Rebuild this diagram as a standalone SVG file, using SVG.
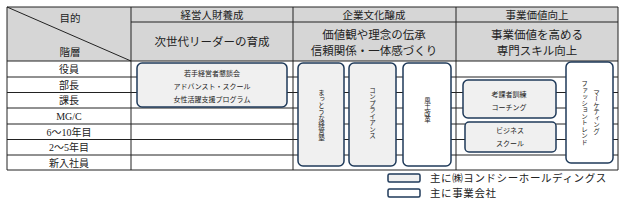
<svg xmlns="http://www.w3.org/2000/svg" width="624" height="207" viewBox="0 0 624 207">
<style>
text{font-family:"Liberation Serif","Noto Sans CJK JP",serif;fill:#222;}
.hd{font-size:10.5px;text-anchor:middle;}
.sh{font-size:11.5px;text-anchor:middle;}
.rl{font-size:10px;text-anchor:middle;}
.sm{font-size:7px;text-anchor:middle;}
.vt{font-size:6.5px;writing-mode:vertical-rl;text-anchor:middle;}
.lg{font-size:10.5px;letter-spacing:0.6px;}
.grid{stroke:#222;stroke-width:1;fill:none;}
.gbox{fill:#f0f0f0;stroke:#1f3a5a;stroke-width:1.5;}
.wbox{fill:#ffffff;stroke:#1f3a5a;stroke-width:1.5;}
</style>
<g id="table">
<rect x="7" y="7" width="611" height="54" fill="#d6d6d6"/>
<rect x="7" y="61" width="611" height="109" fill="#ffffff"/>
<path class="grid" d="M7,7H618V170H7Z M131,22H618 M7,61H618 M7,77H618 M7,92.5H618 M7,108H618 M7,124H618 M7,139.5H618 M7,155H618 M131,7V170 M293,7V170 M456,7V170 M7,7L131,61"/>
<text class="hd" x="70" y="22">目的</text>
<text class="hd" x="70" y="56">階層</text>
<text class="hd" x="212" y="19">経営人財養成</text>
<text class="hd" x="374" y="19">企業文化醸成</text>
<text class="hd" x="537" y="19">事業価値向上</text>
<text class="sh" x="212" y="46">次世代リーダーの育成</text>
<text class="sh" x="374" y="39">価値観や理念の伝承</text>
<text class="sh" x="374" y="55">信頼関係・一体感づくり</text>
<text class="sh" x="537" y="39">事業価値を高める</text>
<text class="sh" x="537" y="55">専門スキル向上</text>
<text class="rl" x="69" y="73">役員</text>
<text class="rl" x="69" y="88.5">部長</text>
<text class="rl" x="69" y="104">課長</text>
<text class="rl" x="69" y="120">MG/C</text>
<text class="rl" x="69" y="135.5">6～10年目</text>
<text class="rl" x="69" y="151">2～5年目</text>
<text class="rl" x="69" y="166.5">新入社員</text>
</g>
<g id="connectors"></g>
<g id="node-keiei">
<rect class="gbox" x="137" y="63" width="150" height="44" rx="5"/>
<text class="sm" x="212" y="76">若手経営者懇談会</text>
<text class="sm" x="212" y="89">アドバンスト・スクール</text>
<text class="sm" x="212" y="102">女性活躍支援プログラム</text>
</g>
<g id="node-juku">
<rect class="gbox" x="298" y="63" width="46" height="103" rx="5"/>
<text class="vt" x="321" y="115">まっとうな経営塾</text>
</g>
<g id="node-comp">
<rect class="gbox" x="349" y="63" width="47" height="103" rx="5"/>
<text class="vt" x="372" y="113">コンプライアンス</text>
</g>
<g id="node-fudo">
<rect class="wbox" x="403" y="63" width="48" height="103" rx="5"/>
<text class="vt" x="427" y="110">風土改革</text>
</g>
<g id="node-koka">
<rect class="gbox" x="463" y="80" width="93" height="38" rx="5"/>
<text class="sm" x="509" y="97">考課者訓練</text>
<text class="sm" x="509" y="110">コーチング</text>
</g>
<g id="node-biz">
<rect class="gbox" x="465" y="122" width="91" height="30" rx="4"/>
<text class="sm" x="510" y="133">ビジネス</text>
<text class="sm" x="510" y="146">スクール</text>
</g>
<g id="node-mkt">
<rect class="wbox" x="566" y="62" width="47" height="101" rx="5"/>
<text class="vt" x="596" y="112">マーケティング</text>
<text class="vt" x="584" y="113">ファッショントレンド</text>
</g>
<g id="legend">
<rect class="gbox" x="388" y="174" width="32" height="8" rx="1.5"/>
<text class="lg" x="430" y="181.5">主に㈱ヨンドシーホールディングス</text>
<rect class="wbox" x="388" y="189" width="32" height="8" rx="1.5"/>
<text class="lg" x="430" y="196.5">主に事業会社</text>
</g>
</svg>
